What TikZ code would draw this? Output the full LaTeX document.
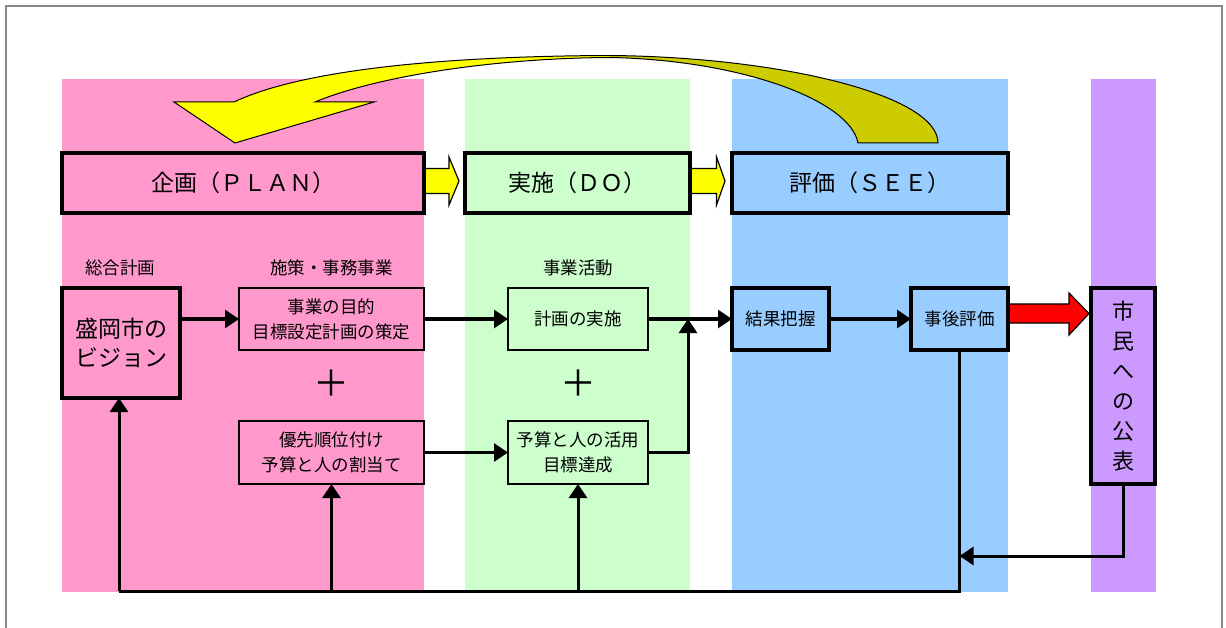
\documentclass[tikz,border=0pt]{standalone}
\usepackage{fontspec}
\setmainfont{Noto Sans CJK JP}
\usetikzlibrary{arrows.meta,calc}
\definecolor{cpink}{HTML}{FF99CC}
\definecolor{cgreen}{HTML}{CCFFCC}
\definecolor{cblue}{HTML}{99CCFF}
\definecolor{cpurple}{HTML}{CC99FF}
\definecolor{cyellow}{HTML}{FFFF00}
\definecolor{colive}{HTML}{CCCC00}
\definecolor{cred}{HTML}{FF0000}
\definecolor{cframe}{HTML}{888888}
\begin{document}
\begin{tikzpicture}[x=1pt,y=-1pt,
  headbox/.style={draw,line width=4pt,inner sep=0pt,outer sep=0pt,minimum height=60pt,font=\fontsize{23}{26}\selectfont},
  thickbox/.style={draw,line width=4pt,inner sep=0pt,outer sep=0pt,align=center},
  thinbox/.style={draw,line width=2pt,inner sep=0pt,outer sep=0pt,align=center,font=\fontsize{17.5}{25}\selectfont},
  lbl/.style={inner sep=0pt,font=\fontsize{17.5}{20}\selectfont},
  plus/.style={inner sep=0pt,font=\fontsize{36}{36}\selectfont},
  conn/.style={line width=3pt,-{Triangle[length=14pt,width=18pt]}},
  wire/.style={line width=3pt},
  blockarrow/.style={line width=1.2pt,line join=miter}
]
\useasboundingbox (0,0) rectangle (1226,628);
% outer frame
\draw[cframe,line width=2pt] (6,6) rectangle (1222,660);
% columns
\fill[cpink] (62,79) rectangle (424,592);
\fill[cgreen] (465,79) rectangle (690,592);
\fill[cblue] (732,79) rectangle (1008,592);
\fill[cpurple] (1091,79) rectangle (1156,592);
% big curved arrow
\fill[cyellow] (610,55.5) .. controls (470,56) and (310,66) .. (234,102) -- (174,102) -- (235,143) -- (374,102) -- (315,102) .. controls (380,75) and (500,58) .. (610,57.5) -- cycle;
\fill[colive] (610,55.5) .. controls (780,57) and (938,95) .. (938,143) -- (858,143) .. controls (850,100) and (740,60) .. (610,57.5) -- cycle;
\draw[line width=1pt,line join=miter] (938,143) .. controls (938,95) and (780,57) .. (610,55.5) .. controls (470,56) and (310,66) .. (234,102) -- (174,102) -- (235,143) -- (374,102) -- (315,102) .. controls (380,75) and (500,58) .. (610,57.5) .. controls (740,60) and (850,100) .. (858,143) -- cycle;
% small yellow arrows between headers
\filldraw[fill=cyellow,blockarrow] (424,168.5) -- (449,168.5) -- (449,157) -- (459,181) -- (449,205) -- (449,193.5) -- (424,193.5) -- cycle;
\filldraw[fill=cyellow,blockarrow] (690,168.5) -- (716.5,168.5) -- (716.5,157) -- (725,181) -- (716.5,205) -- (716.5,193.5) -- (690,193.5) -- cycle;
% red arrow
\filldraw[fill=cred,blockarrow] (1008,304) -- (1069,304) -- (1069,293) -- (1089,313.5) -- (1069,335) -- (1069,323) -- (1008,323) -- cycle;
% header boxes
\node[headbox,fill=cpink,minimum width=362pt] (plan) at (243,183) {企画（ＰＬＡＮ）};
\node[headbox,fill=cgreen,minimum width=225pt] (do) at (577.5,183) {実施（ＤＯ）};
\node[headbox,fill=cblue,minimum width=276pt] (see) at (870,183) {評価（ＳＥＥ）};
% labels
\node[lbl] (l1) at (120,268) {総合計画};
\node[lbl] (l2) at (331.5,268) {施策・事務事業};
\node[lbl] (l3) at (578,268) {事業活動};
% boxes
\node[thickbox,fill=cpink,minimum width=118pt,minimum height=110pt,font=\fontsize{23}{29}\selectfont] (vision) at (121,343) {盛岡市の\\ビジョン};
\node[thinbox,fill=cpink,minimum width=185pt,minimum height=62pt] (goal) at (331.5,319) {事業の目的\\目標設定計画の策定};
\node[thinbox,fill=cpink,minimum width=185pt,minimum height=63pt] (prio) at (331.5,452.5) {優先順位付け\\予算と人の割当て};
\node[thinbox,fill=cgreen,minimum width=140pt,minimum height=62pt] (impl) at (578,319) {計画の実施};
\node[thinbox,fill=cgreen,minimum width=140pt,minimum height=63pt] (budget) at (578,452.5) {予算と人の活用\\目標達成};
\node[thickbox,fill=cblue,minimum width=97pt,minimum height=62pt,font=\fontsize{17.5}{20}\selectfont] (result) at (780.5,319) {結果把握};
\node[thickbox,fill=cblue,minimum width=97pt,minimum height=62pt,font=\fontsize{17.5}{20}\selectfont] (post) at (959.5,319) {事後評価};
\node[thickbox,fill=cpurple,minimum width=64pt,minimum height=196pt,font=\fontsize{22}{30}\selectfont] (citizen) at (1123,386) {市\\民\\へ\\の\\公\\表};
% plus signs
\node[plus] (p1) at (331.5,383) {＋};
\node[plus] (p2) at (578,383) {＋};
% connectors
\draw[conn] (vision.east |- goal.west) -- (goal.west);
\draw[conn] (goal.east) -- (impl.west);
\draw[conn] (prio.east) -- (budget.west);
\draw[conn] (impl.east) -- (result.west);
\draw[conn] (result.east) -- (post.west);
\coordinate (j) at (688,319);
\draw[conn] (budget.east) -| (j);
\coordinate (bl) at (119,591);
\draw[wire] (post.south) |- (bl);
\draw[conn] (bl) -- (bl |- vision.south);
\draw[conn] (prio.south |- bl) -- (prio.south);
\draw[conn] (budget.south |- bl) -- (budget.south);
\coordinate (ret) at (959.5,556);
\draw[conn] (citizen.south) |- (ret);
\end{tikzpicture}
\end{document}
